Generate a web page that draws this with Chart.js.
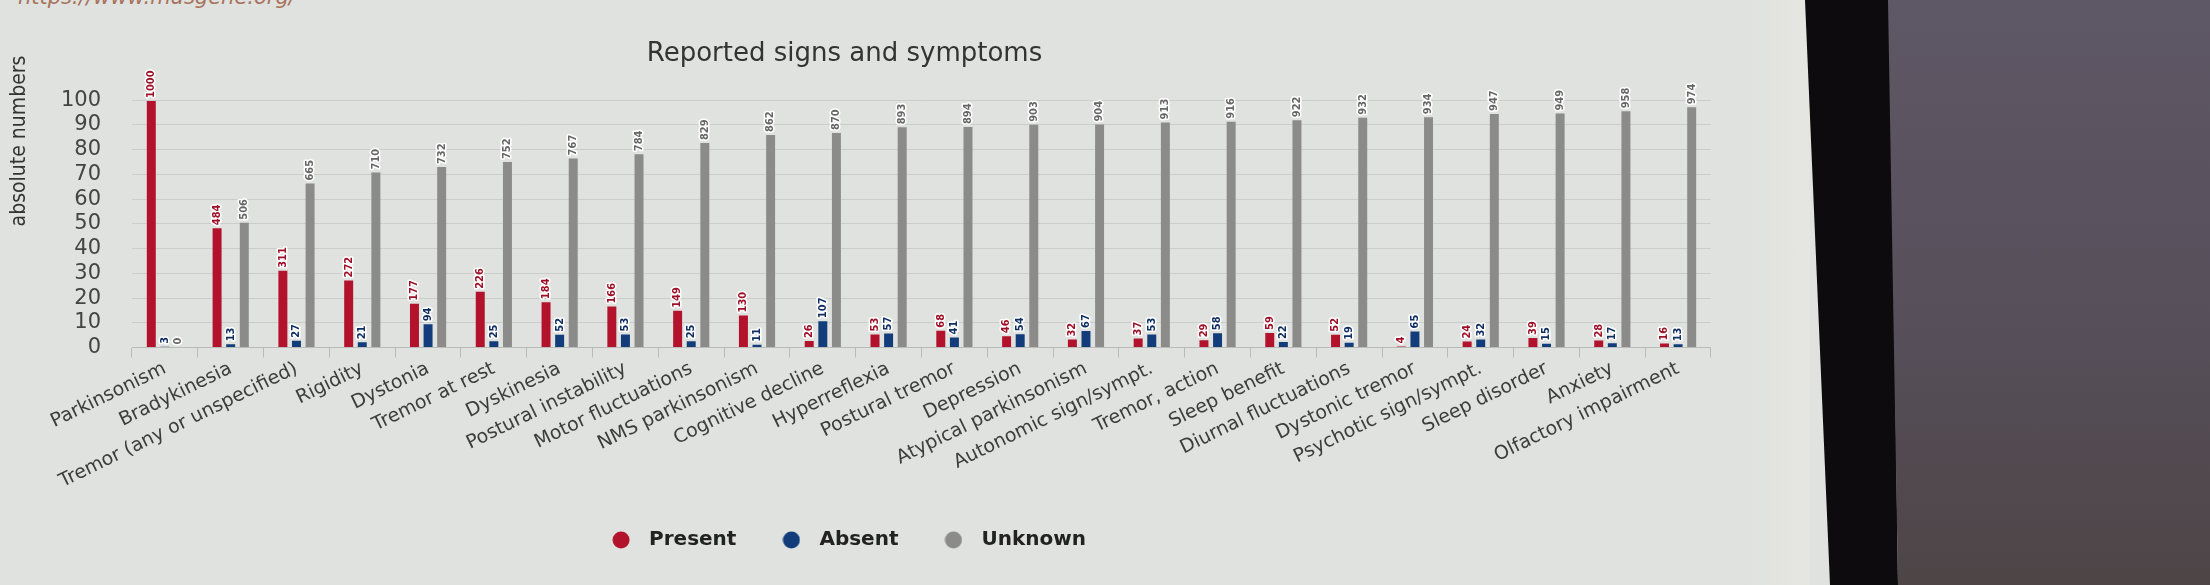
<!DOCTYPE html>
<html>
<head>
<meta charset="utf-8">
<script src="https://cdn.jsdelivr.net/npm/chart.js@4"></script>
<style>
  body { margin:0; width:2210px; height:585px; overflow:hidden; background:#e0e2df; position:relative; }
  #url { position:absolute; left:18px; top:-15px; font:italic 21px "DejaVu Sans"; color:#a8735c; white-space:nowrap; }
  #edge { position:absolute; left:1750px; top:0; width:60px; height:585px; background:linear-gradient(90deg,#e0e2df,#e6e6e1); }
  #bezel { position:absolute; left:1805px; top:0; width:100px; height:585px; background:#0d0b0d;
           clip-path:polygon(0 0,85px 0,93px 585px,25px 585px); }
  #wall { position:absolute; left:1888px; top:0; width:322px; height:585px;
          background:linear-gradient(180deg,#5e5765 0%,#574f5a 55%,#4e4547 100%);
          clip-path:polygon(0 0,322px 0,322px 585px,10px 585px); }
  #chartBox { position:absolute; left:-22px; top:28px; }
</style>
</head>
<body>
<div id="url">https://www.musgene.org/</div>
<div id="edge"></div>
<div id="bezel"></div>
<div id="wall"></div>
<div id="chartBox"><canvas id="Plot" width="1733" height="532"></canvas></div>
<script>
var total = 1003;

var symptoms = ['Parkinsonism','Bradykinesia','Tremor (any or unspecified)','Rigidity','Dystonia',
  'Tremor at rest','Dyskinesia','Postural instability','Motor fluctuations','NMS parkinsonism',
  'Cognitive decline','Hyperreflexia','Postural tremor','Depression','Atypical parkinsonism',
  'Autonomic sign/sympt.','Tremor, action','Sleep benefit','Diurnal fluctuations','Dystonic tremor',
  'Psychotic sign/sympt.','Sleep disorder','Anxiety','Olfactory impairment'];

var present = [1000,484,311,272,177,226,184,166,149,130,26,53,68,46,32,37,29,59,52,4,24,39,28,16];
var absent  = [3,13,27,21,94,25,52,53,25,11,107,57,41,54,67,53,58,22,19,65,32,15,17,13];
var unknown = [0,506,665,710,732,752,767,784,829,862,870,893,894,903,904,913,916,922,932,934,947,949,958,974];

var yTicks = [0,10,20,30,40,50,60,70,80,90,100];

function toPercent(arr){
  return arr.map(x => x * 100 / total);
}

// small round marker for the legend
function dot(color){
  var cv = document.createElement('canvas');
  cv.width = 18; cv.height = 18;
  var g = cv.getContext('2d');
  g.fillStyle = color;
  g.beginPath();
  g.arc(9, 9, 8.5, 0, Math.PI * 2);
  g.fill();
  return cv;
}

/* value labels above each bar (rotated) + the y axis caption */
var barLabels = {
  id: 'barLabels',
  afterDatasetsDraw(chart){
    var c = chart.ctx;
    var counts = [present, absent, unknown];
    chart.data.datasets.forEach((ds, i) => {
      chart.getDatasetMeta(i).data.forEach((bar, j) => {
        var txt = String(counts[i][j]);
        c.save();
        c.translate(bar.x, bar.y - 3);
        c.rotate(-Math.PI / 2);
        c.font = 'bold 11px "DejaVu Sans Condensed"';
        c.textAlign = 'left';
        c.textBaseline = 'middle';
        c.lineJoin = 'round';
        c.lineWidth = 3;
        c.strokeStyle = '#ffffff';
        c.strokeText(txt, 0, 0);
        c.fillStyle = ds.textColor;
        c.fillText(txt, 0, 0);
        c.restore();
      });
    });
  },
  afterDraw(chart){
    var c = chart.ctx;
    c.save();
    c.translate(42, 113);
    c.rotate(-Math.PI / 2);
    c.font = '21px "DejaVu Sans Condensed"';
    c.fillStyle = '#333333';
    c.textAlign = 'center';
    c.textBaseline = 'middle';
    c.fillText('absolute numbers', 0, 0);
    c.restore();
  }
};

var ctx = document.getElementById('Plot').getContext('2d');

var myChart = new Chart(ctx, {
  type: 'bar',
  data: {
    labels: symptoms,
    datasets: [{
      label: 'Present',
      data: toPercent(present),
      backgroundColor: '#b3122c',
      pointStyle: dot('#b3122c'),
      textColor: '#9e1026'
    },{
      label: 'Absent',
      data: toPercent(absent),
      backgroundColor: '#123c7a',
      pointStyle: dot('#123c7a'),
      textColor: '#0f2f63'
    },{
      label: 'Unknown',
      data: toPercent(unknown),
      backgroundColor: '#8b8b89',
      pointStyle: dot('#8b8b89'),
      textColor: '#666666'
    }]
  },
  options: {
    responsive: false,
    animation: false,
    categoryPercentage: 0.62,
    barPercentage: 0.66,
    layout: { padding: 0 },
    plugins: {
      title: {
        display: true,
        text: 'Reported signs and symptoms',
        color: '#333333',
        font: { family: 'DejaVu Sans', size: 26, weight: 'normal' },
        padding: { top: 11, bottom: 30 }
      },
      legend: {
        position: 'bottom',
        labels: {
          usePointStyle: true,
          pointStyleWidth: 36,
          boxHeight: 16,
          padding: 37,
          color: '#222222',
          font: { family: 'DejaVu Sans', size: 20, weight: 'bold' }
        }
      },
      tooltip: { enabled: false }
    },
    scales: {
      x: {
        grid: { display: true, drawOnChartArea: false, tickLength: 10, color: '#b9bbb8', offset: true },
        border: { color: '#b9bbb8' },
        ticks: {
          autoSkip: false,
          padding: 0,
          maxRotation: 26,
          minRotation: 26,
          color: '#3c3c3c',
          font: { family: 'DejaVu Sans', size: 19 }
        }
      },
      y: {
        min: 0,
        max: 100,
        afterFit: function(s){ s.width = 154; },
        afterBuildTicks: function(axis){ axis.ticks = yTicks.map(v => ({ value: v })); },
        grid: { color: '#cbcdca', drawTicks: false },
        border: { display: false },
        ticks: {
          autoSkip: false,
          padding: 31,
          color: '#444444',
          font: { family: 'DejaVu Sans', size: 21 }
        }
      }
    }
  },
  plugins: [barLabels]
});
</script>
</body>
</html>
